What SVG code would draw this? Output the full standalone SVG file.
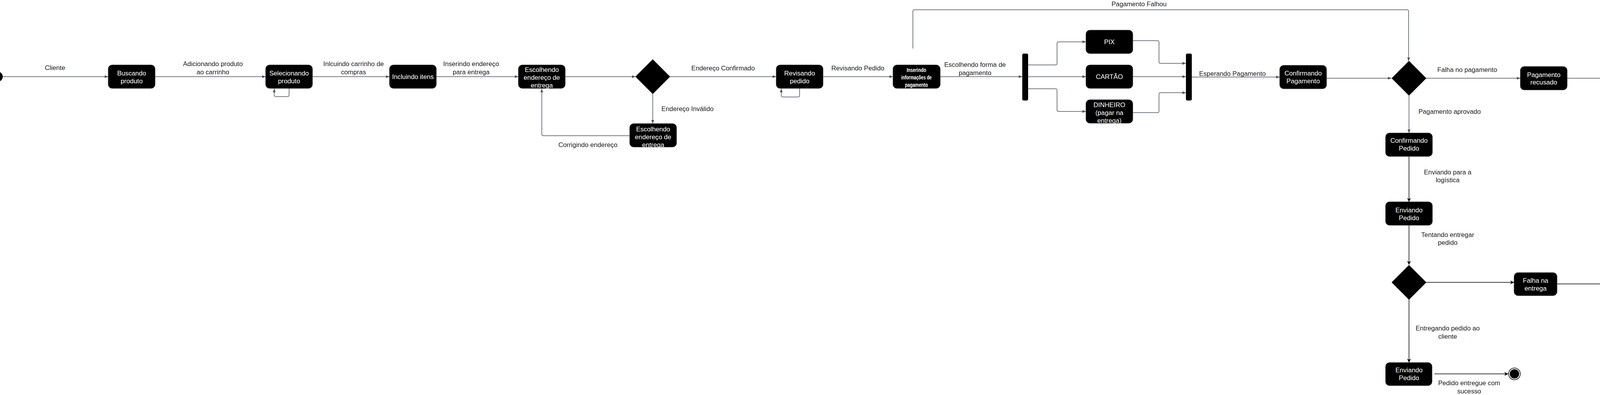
<svg xmlns="http://www.w3.org/2000/svg" width="4500" height="1010" viewBox="0 0 4500 1010">
<style>
  .node rect, .node polygon { fill:#000; stroke:#3a3a3a; stroke-width:1; }
  .diamond { fill:#000; stroke:#000; stroke-width:2; stroke-linejoin:round; }
  .nt { font-family:"Liberation Sans", Arial, sans-serif; font-size:16.7px; fill:#fff; text-anchor:middle; }
  .ns { font-family:"Liberation Sans", Arial, sans-serif; font-size:14px; font-weight:bold; fill:#fff; text-anchor:middle; }
  .lb { font-family:"Liberation Sans", Arial, sans-serif; font-size:16.7px; fill:#222; text-anchor:middle; }
  .cg { fill:none; stroke:#4b5260; stroke-width:1.5; marker-end:url(#ag); }
  .cgn { fill:none; stroke:#4b5260; stroke-width:1.5; }
  .cb { fill:none; stroke:#000; stroke-width:1.5; marker-end:url(#ab); }
</style>
<defs>
  <marker id="ag" viewBox="0 0 10 8" refX="10" refY="4" markerWidth="9" markerHeight="8" markerUnits="userSpaceOnUse" orient="auto">
    <path d="M0,0 L10,4 L0,8 z" fill="#4b5260"/>
  </marker>
  <marker id="ab" viewBox="0 0 10 10" refX="10" refY="5" markerWidth="10" markerHeight="10" markerUnits="userSpaceOnUse" orient="auto">
    <path d="M0,0 L10,5 L0,10 L3,5 z" fill="#000"/>
  </marker>
</defs>
<rect x="0" y="0" width="4500" height="1010" fill="#fff"/>

<g id="connectors">
  <path class="cg" d="M7,196 H277"/>
  <path class="cg" d="M397,196 H680"/>
  <path class="cg" d="M740,226 V243 Q740,247 736,247 H706 Q702,247 702,243 V227"/>
  <path class="cg" d="M800,196 H997"/>
  <path class="cg" d="M1117,196 H1327"/>
  <path class="cg" d="M1447,196 H1627"/>
  <path class="cg" d="M1715,196 H1987"/>
  <path class="cg" d="M1671,240 V316"/>
  <path class="cg" d="M1612,347 H1391 Q1387,347 1387,343 V227"/>
  <path class="cg" d="M2047,226 V244 Q2047,248 2043,248 H2004 Q2000,248 2000,244 V227"/>
  <path class="cg" d="M2107,196 H2286"/>
  <path class="cg" d="M2337,124 V29 Q2337,25 2341,25 H3602 Q3606,25 3606,29 V156"/>
  <path class="cg" d="M2407,196 H2617"/>
  <path class="cg" d="M2632,166 H2702 Q2706,166 2706,162 V111 Q2706,107 2710,107 H2780"/>
  <path class="cg" d="M2632,196 H2780"/>
  <path class="cg" d="M2632,227 H2702 Q2706,227 2706,231 V281 Q2706,285 2710,285 H2780"/>
  <path class="cg" d="M2900,104 H2963 Q2967,104 2967,108 V158 Q2967,162 2971,162 H3036"/>
  <path class="cg" d="M2900,196 H3036"/>
  <path class="cg" d="M2900,288 H2963 Q2967,288 2967,284 V241 Q2967,237 2971,237 H3036"/>
  <path class="cg" d="M3051,197 H3276"/>
  <path class="cg" d="M3396,200 H3562"/>
  <path class="cg" d="M3651,200 H3892"/>
  <path class="cg" d="M4012,200 H4162"/>
  <path class="cg" d="M4282,200 H4490"/>
  <path class="cg" d="M3607,244 V340"/>
  <path class="cb" d="M3607,400 V516"/>
  <path class="cb" d="M3607,576 V677"/>
  <path class="cb" d="M3651,722 H3876"/>
  <path class="cb" d="M3986,726 H4227 V239"/>
  <path class="cb" d="M3607,766 V927"/>
  <path class="cb" d="M3672,956 H3861"/>
</g>

<g id="labels">
  <text class="lb" x="141" y="179">Cliente</text>
  <text class="lb" x="545" y="169">Adicionando produto</text>
  <text class="lb" x="545" y="190">ao carrinho</text>
  <text class="lb" x="905" y="169">Inlcuindo carrinho de</text>
  <text class="lb" x="905" y="190">compras</text>
  <text class="lb" x="1206" y="169">Inserindo endereço</text>
  <text class="lb" x="1206" y="190">para entrega</text>
  <text class="lb" x="1851" y="180">Endereço Confirmado</text>
  <text class="lb" x="1760" y="284">Endereço Inválido</text>
  <text class="lb" x="1505" y="376">Corrigindo endereço</text>
  <text class="lb" x="2196" y="180">Revisando Pedido</text>
  <text class="lb" x="2496" y="171">Escolhendo forma de</text>
  <text class="lb" x="2496" y="192">pagamento</text>
  <text class="lb" x="2916" y="16">Pagamento Falhou</text>
  <text class="lb" x="3155" y="194">Esperando Pagamento</text>
  <text class="lb" x="3756" y="184">Falha no pagamento</text>
  <text class="lb" x="4386" y="195">Pedido Cancelado</text>
  <text class="lb" x="3711" y="291">Pagamento aprovado</text>
  <text class="lb" x="3706" y="446">Enviando para a</text>
  <text class="lb" x="3706" y="466">logística</text>
  <text class="lb" x="3706" y="606">Tentando entregar</text>
  <text class="lb" x="3706" y="626">pedido</text>
  <text class="lb" x="3706" y="845">Entregando pedido ao</text>
  <text class="lb" x="3706" y="866">cliente</text>
  <text class="lb" x="3761" y="985">Pedido entregue com</text>
  <text class="lb" x="3761" y="1006">sucesso</text>
</g>

<g id="start">
  <circle cx="-6" cy="196" r="13" fill="#000"/>
</g>

<g id="buscando" class="node">
  <rect x="277" y="166" width="120" height="60" rx="10"/>
  <text class="nt" x="337" y="193">Buscando</text>
  <text class="nt" x="337" y="213">produto</text>
</g>
<g id="selecionando" class="node">
  <rect x="680" y="166" width="120" height="60" rx="10"/>
  <text class="nt" x="740" y="193">Selecionando</text>
  <text class="nt" x="740" y="213">produto</text>
</g>
<g id="incluindo" class="node">
  <rect x="997" y="166" width="120" height="60" rx="10"/>
  <text class="nt" x="1057" y="202">Incluindo itens</text>
</g>
<g id="escolhendo1" class="node">
  <rect x="1327" y="166" width="120" height="60" rx="10"/>
  <text class="nt" x="1387" y="184">Escolhendo</text>
  <text class="nt" x="1387" y="204">endereço de</text>
  <text class="nt" x="1387" y="224">entrega</text>
</g>
<g id="decisao1">
  <polygon class="diamond" points="1671,153 1714,196 1671,239 1628,196"/>
</g>
<g id="escolhendo2" class="node">
  <rect x="1612" y="316" width="120" height="60" rx="10"/>
  <text class="nt" x="1672" y="336">Escolhendo</text>
  <text class="nt" x="1672" y="356">endereço de</text>
  <text class="nt" x="1672" y="376">entrega</text>
</g>
<g id="revisando" class="node">
  <rect x="1987" y="166" width="120" height="60" rx="10"/>
  <text class="nt" x="2047" y="193">Revisando</text>
  <text class="nt" x="2047" y="213">pedido</text>
</g>
<g id="inserindo" class="node">
  <rect x="2286" y="166" width="121" height="60" rx="10"/>
  <text class="ns" x="2346" y="184" textLength="50" lengthAdjust="spacingAndGlyphs">Inserindo</text>
  <text class="ns" x="2346" y="203" textLength="78" lengthAdjust="spacingAndGlyphs">informações de</text>
  <text class="ns" x="2346" y="222" textLength="59" lengthAdjust="spacingAndGlyphs">pagamento</text>
</g>
<g id="fork1">
  <rect x="2617" y="137" width="15" height="120" rx="4" fill="#000"/>
</g>
<g id="pix" class="node">
  <rect x="2780" y="77" width="120" height="60" rx="10"/>
  <text class="nt" x="2840" y="113">PIX</text>
</g>
<g id="cartao" class="node">
  <rect x="2780" y="166" width="120" height="60" rx="10"/>
  <text class="nt" x="2840" y="202">CARTÃO</text>
</g>
<g id="dinheiro" class="node">
  <rect x="2780" y="255" width="120" height="60" rx="10"/>
  <text class="nt" x="2840" y="274">DINHEIRO</text>
  <text class="nt" x="2840" y="294">(pagar na</text>
  <text class="nt" x="2840" y="314">entrega)</text>
</g>
<g id="join1">
  <rect x="3036" y="137" width="15" height="120" rx="4" fill="#000"/>
</g>
<g id="confirmandoPagamento" class="node">
  <rect x="3276" y="167" width="120" height="60" rx="10"/>
  <text class="nt" x="3336" y="193">Confirmando</text>
  <text class="nt" x="3336" y="213">Pagamento</text>
</g>
<g id="decisao2">
  <polygon class="diamond" points="3607,157 3650,200 3607,243 3564,200"/>
</g>
<g id="pagamentoRecusado" class="node">
  <rect x="3892" y="170" width="120" height="60" rx="10"/>
  <text class="nt" x="3952" y="197">Pagamento</text>
  <text class="nt" x="3952" y="216">recusado</text>
</g>
<g id="cancelando" class="node">
  <rect x="4162" y="170" width="120" height="60" rx="10"/>
  <text class="nt" x="4222" y="196">Cancelando</text>
  <text class="nt" x="4222" y="215">Pedido</text>
</g>
<g id="fimCancelado">
  <circle cx="4506" cy="200" r="15" fill="#fff" stroke="#000" stroke-width="1.5"/>
  <circle cx="4506" cy="200" r="11.5" fill="#000"/>
</g>
<g id="confirmandoPedido" class="node">
  <rect x="3547" y="340" width="120" height="60" rx="10"/>
  <text class="nt" x="3607" y="365">Confirmando</text>
  <text class="nt" x="3607" y="385">Pedido</text>
</g>
<g id="enviandoPedido1" class="node">
  <rect x="3547" y="516" width="120" height="60" rx="10"/>
  <text class="nt" x="3607" y="543">Enviando</text>
  <text class="nt" x="3607" y="563">Pedido</text>
</g>
<g id="decisao3">
  <polygon class="diamond" points="3607,679 3650,722 3607,765 3564,722"/>
</g>
<g id="falhaEntrega" class="node">
  <rect x="3876" y="697" width="110" height="59" rx="10"/>
  <text class="nt" x="3931" y="723">Falha na</text>
  <text class="nt" x="3931" y="743">entrega</text>
</g>
<g id="enviandoPedido2" class="node">
  <rect x="3547" y="927" width="119" height="59" rx="10"/>
  <text class="nt" x="3607" y="952">Enviando</text>
  <text class="nt" x="3607" y="972">Pedido</text>
</g>
<g id="fimSucesso">
  <circle cx="3877" cy="956" r="15" fill="#fff" stroke="#000" stroke-width="1.5"/>
  <circle cx="3877" cy="956" r="12" fill="#000"/>
</g>
</svg>
